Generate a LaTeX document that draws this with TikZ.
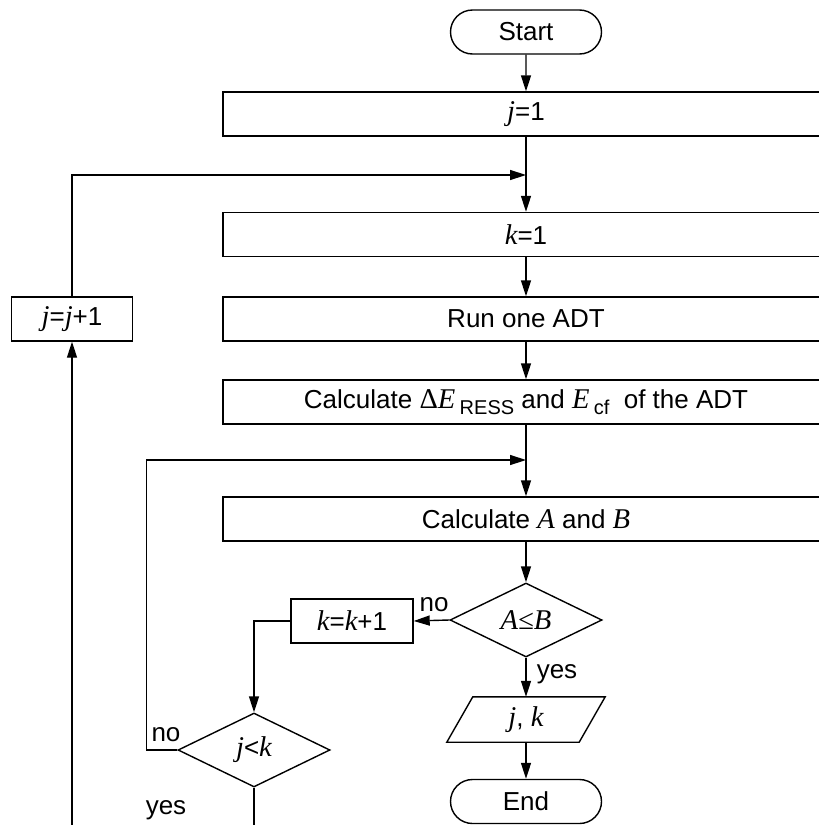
\documentclass[tikz,border=0pt]{standalone}
\usepackage{fontspec}
\setmainfont{Liberation Sans}
\newfontfamily\seriffam[Scale=1.1]{Liberation Serif}
\usetikzlibrary{shapes.geometric,shapes.misc,arrows.meta}
\newcommand\vv[1]{{\seriffam\itshape #1}}
\newcommand\subtx[1]{\,\raisebox{-6pt}{\fontsize{20}{20}\selectfont #1}}
\begin{document}
\begin{tikzpicture}[x=1pt,y=-1pt,
  every node/.style={font=\fontsize{26}{31}\selectfont},
  line/.style={line width=1.4pt},
  arr/.style={line width=1.4pt,-{Triangle[length=16pt,width=10pt]}},
  proc/.style={draw,line width=1.4pt,rectangle,inner sep=0pt,minimum height=44pt},
  term/.style={draw,line width=1.4pt,rounded rectangle,inner sep=0pt,minimum width=151pt,minimum height=44pt},
  dia/.style={draw,line width=1.4pt,diamond,inner sep=0pt,minimum width=152pt,minimum height=74pt},
  lab/.style={inner sep=0pt}
]
\useasboundingbox (0,0) rectangle (819,825);
\clip (0,0) rectangle (819,825);

\node[term] (start) at (526,32) {Start};
\node[proc,minimum width=606pt] (j1) at (526,114) {\vv{j}=1};
\node[proc,minimum width=606pt] (k1) at (526,234.5) {\vv{k}=1};
\node[proc,minimum width=606pt] (run) at (526,319) {Run one ADT};
\node[proc,minimum width=606pt] (calc) at (526,402) {Calculate {\seriffam Δ}\vv{E}\subtx{RESS} and \vv{E}\subtx{cf}\ \ of the ADT};
\node[proc,minimum width=606pt] (ab) at (526,519) {Calculate \vv{A} and \vv{B}};
\node[proc,minimum width=121pt] (jj1) at (72,319) {\vv{j}=\vv{j}+1};
\node[dia,label={[lab]center:{\seriffam\itshape A≤B}}] (dAB) at (526,620) {};
\node[proc,minimum width=122pt] (kk) at (352,621) {\vv{k}=\vv{k}+1};
\node[dia,label={[lab]center:{\vv{j}<\vv{k}}}] (jjk) at (254,750) {};
\node[rectangle,inner sep=0pt,minimum width=132pt,minimum height=45pt] (io) at (526,719.5) {\vv{j}, \vv{k}};
\draw[line] ([xshift=13pt]io.north west) -- ([xshift=13pt]io.north east) -- ([xshift=-13pt]io.south east) -- ([xshift=-13pt]io.south west) -- cycle;
\node[term] (end) at (526,801.5) {End};

\node[lab] (no1) at (434,605) {no};
\node[lab] (yes1) at (557,674) {yes};
\node[lab] (no2) at (166,735) {no};
\node[lab] (yes2) at (166,810) {yes};

\coordinate (c1) at (526,175);
\coordinate (c2) at (526,460);
\coordinate (b1) at (254,840);
\coordinate (b2) at (72,840);

\draw[arr] (start) -- (j1);
\draw[arr] (j1) -- (k1);
\draw[arr] (jj1.north) |- (c1);
\draw[arr] (k1) -- (run);
\draw[arr] (run) -- (calc);
\draw[arr] (calc) -- (ab);
\draw[arr] (jjk.west) -- ++(-31,0) |- (c2);
\draw[arr] (ab) -- (dAB);
\draw[arr] (dAB.west) -- (kk.east);
\draw[arr] (kk.west) -| (jjk.north);
\draw[arr] (dAB.south) -- (io.north);
\draw[arr] (io.south) -- (end.north);
\draw[line] (jjk.south) -- (b1);
\draw[arr] (b2) -- (jj1.south);
\end{tikzpicture}
\end{document}
